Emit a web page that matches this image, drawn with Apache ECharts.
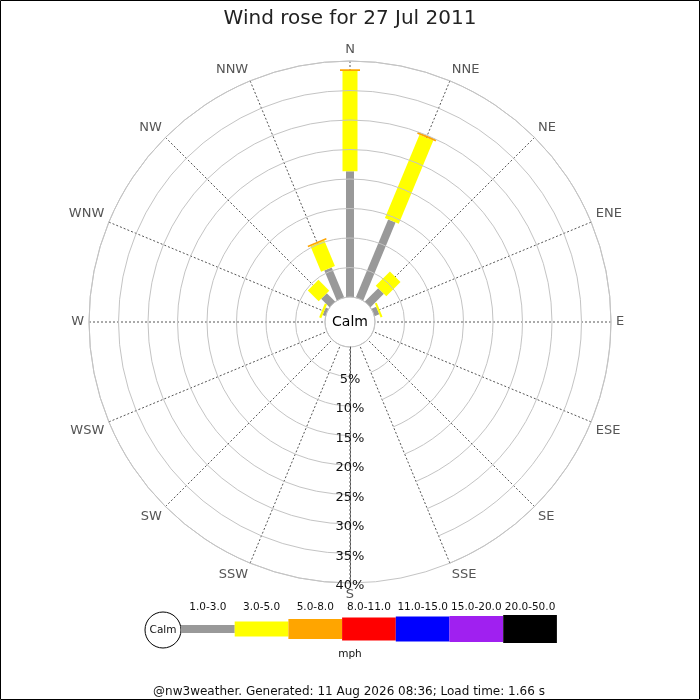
<!DOCTYPE html>
<html>
<head>
<meta charset="utf-8">
<script src="https://cdn.jsdelivr.net/npm/echarts@6/dist/echarts.min.js"></script>
<style>
html,body{margin:0;padding:0;background:#fff;}
#chart{width:700px;height:700px;}
</style>
</head>
<body>
<div id="chart"></div>
<script>
// ---- data ----
const directions = ['N','NNE','NE','ENE','E','ESE','SE','SSE','S','SSW','SW','WSW','W','WNW','NW','NNW'];
// percent of time per direction, per speed class (mph)
const speed1to3 = [21.3, 14.3, 3.2, 0.85, 0, 0, 0, 0, 0, 0, 0, 0, 0, 0.5, 2.0, 5.5];
const speed3to5 = [17.0, 15.3, 3.4, 0.35, 0, 0, 0, 0, 0, 0, 0, 0, 0, 0.4, 2.6, 4.7];
const speed5to8 = [0.3, 0.35, 0, 0, 0, 0, 0, 0, 0, 0, 0, 0, 0, 0, 0, 0.25];
const speedBins = ['1.0-3.0','3.0-5.0','5.0-8.0','8.0-11.0','11.0-15.0','15.0-20.0','20.0-50.0'];
const binColors = ['#999999','#ffff00','#ffa500','#ff0000','#0000ff','#a020f0','#000000'];
const binWidths = [8, 15, 20, 23, 25, 26, 28];
const percentTicks = [0, 5, 10, 15, 20, 25, 30, 35, 40];
const seriesValues = [speed1to3, speed3to5, speed5to8];

// axis order starts at S (so the % labels run down the S spoke)
const axisCats = directions.slice(8).concat(directions.slice(0, 8));
function axisIndex(i) { return (i + 8) % 16; }

// build stacked intervals
const cum = directions.map(() => 0);
const seriesData = seriesValues.map((vals) => {
  const out = [];
  vals.forEach((v, i) => {
    const s = cum[i];
    cum[i] = s + v;
    if (v > 0) out.push([axisIndex(i), s, s + v]);
  });
  return out;
});

function makeRender(color, w) {
  return function (params, api) {
    const a = api.value(0), r0 = api.value(1), r1 = api.value(2);
    const p0 = api.coord([r0, a]);
    const p1 = api.coord([r1, a]);
    const dx = p1[0] - p0[0], dy = p1[1] - p0[1];
    const len = Math.hypot(dx, dy);
    if (!len) return null;
    const nx = -dy / len * w / 2, ny = dx / len * w / 2;
    return {
      type: 'polygon',
      shape: { points: [
        [p0[0] + nx, p0[1] + ny], [p1[0] + nx, p1[1] + ny],
        [p1[0] - nx, p1[1] - ny], [p0[0] - nx, p0[1] - ny]
      ]},
      style: { fill: color }
    };
  };
}

const FONT = 'DejaVu Sans';

// legend graphics
const legendX0 = 181, segW = 53.7, legendY = 629;
const legendGraphics = [
  { type: 'circle', shape: { cx: 163, cy: 630, r: 18 }, style: { fill: '#fff', stroke: '#000', lineWidth: 1 }, z: 10 },
  { type: 'text', x: 163, y: 630, style: { text: 'Calm', font: '10.5px ' + FONT, fill: '#111', align: 'center', verticalAlign: 'middle' }, z: 11 }
];
speedBins.forEach((lab, i) => {
  legendGraphics.push({ type: 'rect', shape: { x: legendX0 + i * segW, y: legendY - binWidths[i] / 2, width: segW, height: binWidths[i] }, style: { fill: binColors[i] }, z: 10 });
  legendGraphics.push({ type: 'text', x: legendX0 + i * segW + segW / 2, y: 607, style: { text: lab, font: '10.5px ' + FONT, fill: '#111', align: 'center', verticalAlign: 'middle' }, z: 10 });
});
legendGraphics.push({ type: 'text', x: 350, y: 654, style: { text: 'mph', font: '10.5px ' + FONT, fill: '#111', align: 'center', verticalAlign: 'middle' }, z: 10 });
legendGraphics.push({ type: 'text', x: 349, y: 692, style: { text: '@nw3weather. Generated: 11 Aug 2026 08:36; Load time: 1.66 s', font: '12px ' + FONT, fill: '#111', align: 'center', verticalAlign: 'middle' }, z: 10 });
legendGraphics.push({ type: 'text', x: 350, y: 322, style: { text: 'Calm', font: '14px ' + FONT, fill: '#000', align: 'center', verticalAlign: 'middle' }, z: 20 });
legendGraphics.push({ type: 'rect', shape: { x: 0.5, y: 0.5, width: 699, height: 699 }, style: { fill: null, stroke: '#000', lineWidth: 1 }, z: 30 });

const chart = echarts.init(document.getElementById('chart'), null, { renderer: 'canvas' });
chart.setOption({
  animation: false,
  backgroundColor: '#fff',
  title: {
    text: 'Wind rose for 27 Jul 2011',
    left: 'center', top: 4,
    textStyle: { fontFamily: FONT, fontSize: 20, fontWeight: 'normal', color: '#222' }
  },
  polar: { center: [350, 322], radius: [25, 261] },
  angleAxis: {
    type: 'category',
    data: axisCats,
    boundaryGap: false,
    startAngle: 270,
    clockwise: true,
    axisLine: { show: true, lineStyle: { color: '#c4c4c4', width: 1 } },
    axisTick: { show: false },
    axisLabel: { margin: 5, color: '#555', fontFamily: FONT, fontSize: 13 },
    splitLine: { show: true, lineStyle: { color: '#555', type: [2, 2], width: 1 } }
  },
  radiusAxis: {
    type: 'value',
    min: percentTicks[0], max: percentTicks[percentTicks.length - 1], interval: 5,
    axisLine: { show: true, lineStyle: { color: '#555', type: [2, 2], width: 1 } },
    axisTick: { show: false },
    axisLabel: {
      show: true, margin: 0, showMinLabel: false,
      formatter: '{p|{value}%}', color: '#111', fontFamily: FONT, fontSize: 13,
      align: 'center', verticalAlign: 'middle', rotate: 0,
      rich: { p: { fontFamily: FONT, fontSize: 13, color: '#111', padding: [6, 0, 0, 0] } }
    },
    splitLine: { show: true, lineStyle: { color: '#c4c4c4', width: 1 } },
    z: 5
  },
  series: seriesData.map((d, k) => ({
    type: 'custom',
    coordinateSystem: 'polar',
    name: speedBins[k],
    dimensions: ['angle', 'r0', 'r1'],
    encode: { angle: 0, radius: [1, 2] },
    renderItem: makeRender(binColors[k], binWidths[k]),
    data: d,
    z: 3
  })),
  graphic: legendGraphics
});
</script>
</body>
</html>
